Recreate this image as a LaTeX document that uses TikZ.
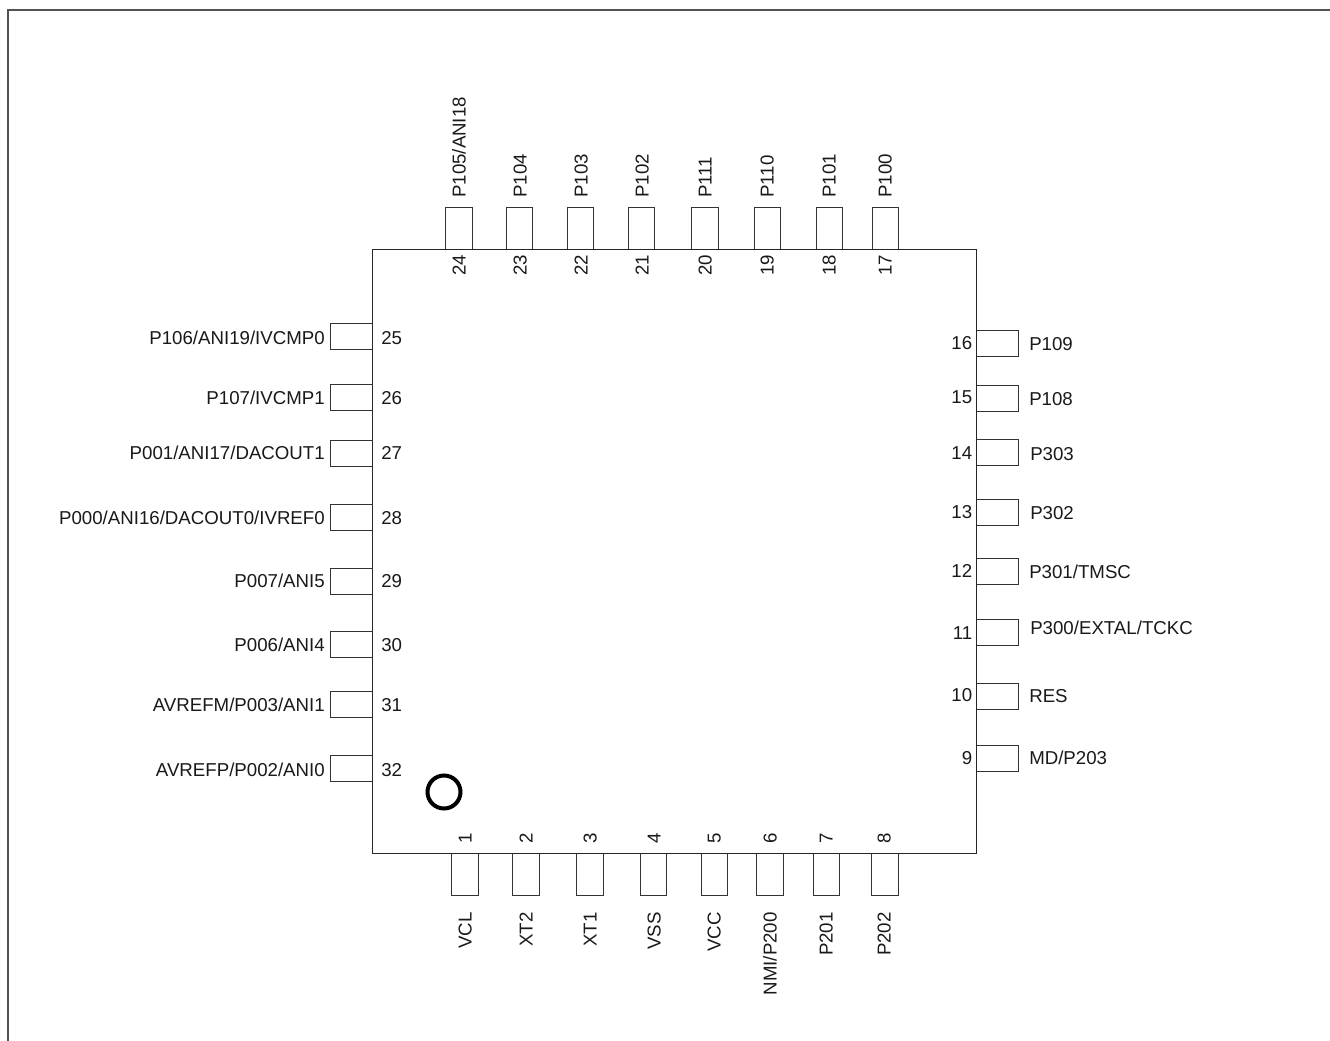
\documentclass[tikz,border=0pt]{standalone}
\usepackage{fontspec}
\setmainfont{Liberation Sans}
\tikzset{
  lbl/.style={inner sep=0pt,font=\fontsize{14}{16}\selectfont,text height=10pt,text depth=0pt,text=black!90},
  pinbox/.style={draw=black!80,line width=.7pt,fill=white,inner sep=0pt,outer sep=0pt},
  chipbox/.style={draw=black!85,line width=.75pt,inner sep=0pt,outer sep=0pt},
  framing/.style={draw=black!68,line width=1.1pt},
  dot/.style={circle,draw=black,line width=3pt,inner sep=0pt,outer sep=0pt}
}
\begin{document}
\begin{tikzpicture}[x=.75pt,y=-.75pt]
\useasboundingbox (0,0) rectangle (1330,1041);
\fill[white] (0,0) rectangle (1330,1041);
\coordinate (fa) at (1330,10);
\coordinate (fb) at (8,10);
\coordinate (fc) at (8,1041);
\draw[framing] (fa) -- (fb) -- (fc);
% pins behind chip
\foreach \n/\x/\w/\lx/\t in {24/445/27/459/P105\slash ANI18,23/506/26/520/P104,22/567/26/581/P103,21/628/26/642/P102,20/691/27/705/P111,19/754/26/767/P110,18/816/26/829/P101,17/872/26/885/P100}{
  \node[pinbox,anchor=north west,minimum width=\w*.75pt,minimum height=31.5pt] (pin\n) at (\x,207) {};
  \node[lbl,rotate=90,anchor=west] (lab\n) at (\lx,198) {\t};
  \node[lbl,rotate=90] (num\n) at (\lx,265) {\n};
}
\foreach \n/\x/\w/\lx/\nx/\t in {1/451/27/465/465/VCL,2/512/27/526/526/XT2,3/576/27/590/590/XT1,4/640/26/654/654/VSS,5/701/26/714/714/VCC,6/756/27/770/770/NMI\slash P200,7/813/26/826/826/P201,8/871/27/884/884/P202}{
  \node[pinbox,anchor=north west,minimum width=\w*.75pt,minimum height=31.5pt] (pin\n) at (\x,853) {};
  \node[lbl,rotate=90,anchor=east] (lab\n) at (\lx,912) {\t};
  \node[lbl,rotate=90] (num\n) at (\nx,838) {\n};
}
\foreach \n/\y/\ly/\t in {25/323/338/P106\slash ANI19\slash IVCMP0,26/384/398/P107\slash IVCMP1,27/440/453/P001\slash ANI17\slash DACOUT1,28/504/518/P000\slash ANI16\slash DACOUT0\slash IVREF0,29/568/581/P007\slash ANI5,30/631/645/P006\slash ANI4,31/691/705/AVREFM\slash P003\slash ANI1,32/755/770/AVREFP\slash P002\slash ANI0}{
  \node[pinbox,anchor=north west,minimum width=31.5pt,minimum height=20pt] (pin\n) at (330,\y) {};
  \node[lbl,anchor=east] (lab\n) at (325,\ly) {\t};
  \node[lbl,anchor=west] (num\n) at (381,\ly) {\n};
}
\foreach \n/\y/\ly/\lby/\lx/\t in {16/330/343/344/1029/P109,15/385/397/399/1029/P108,14/439/453/454/1030/P303,13/499/512/513/1030/P302,12/558/571/572/1029/P301\slash TMSC,11/619/633/628/1030/P300\slash EXTAL\slash TCKC,10/683/695/696/1029/RES,9/745/758/758/1029/MD\slash P203}{
  \node[pinbox,anchor=north west,minimum width=31.5pt,minimum height=20pt] (pin\n) at (976,\y) {};
  \node[lbl,anchor=west] (lab\n) at (\lx,\lby) {\t};
  \node[lbl,anchor=east] (num\n) at (972.5,\ly) {\n};
}
\node[chipbox,anchor=north west,minimum width=453pt,minimum height=453pt] (chip) at (372,249) {};
\node[dot,minimum size=24.75pt] (mark) at (444,792) {};
\end{tikzpicture}
\end{document}
